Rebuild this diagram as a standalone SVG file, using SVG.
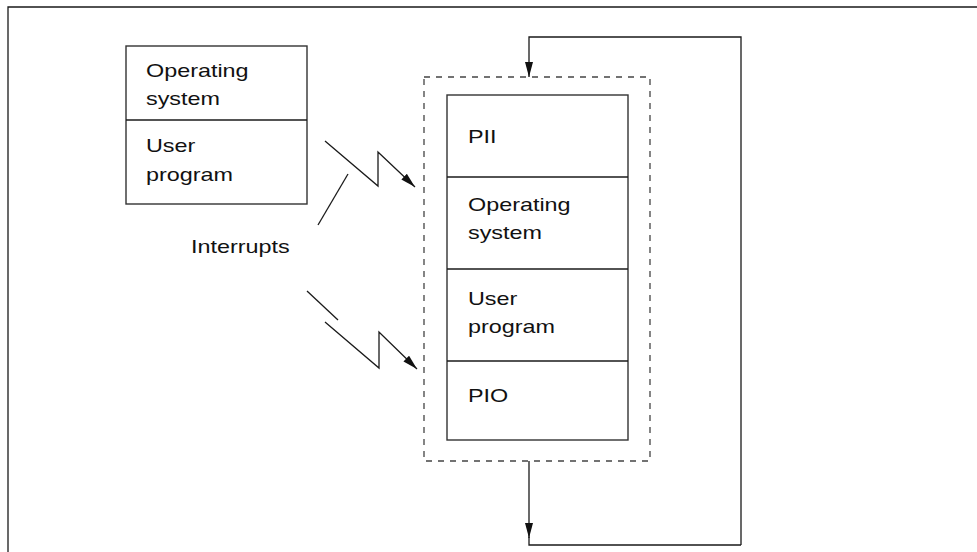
<svg xmlns="http://www.w3.org/2000/svg" width="977" height="552" viewBox="0 0 977 552">
<defs>
<style>
.ln{fill:none;stroke:#1a1a1a;stroke-width:1.3}
.box{fill:#fff;stroke:#333;stroke-width:1.4}
.dash{fill:none;stroke:#444;stroke-width:1.3;stroke-dasharray:6,6}
.t{font-family:"Liberation Sans",Arial,sans-serif;font-size:19px;fill:#111}
</style>
<marker id="ah" markerUnits="userSpaceOnUse" markerWidth="16" markerHeight="10" refX="15" refY="4" orient="auto">
<path d="M0,0 L15,4 L0,8 z" fill="#111"/>
</marker>
</defs>
<rect width="977" height="552" fill="#fff"/>
<path class="ln" d="M8,552 L8,7 L977,7" stroke="#333" stroke-width="1.5"/>

<g id="left-box">
<rect class="box" x="126" y="46" width="181" height="158"/>
<line class="ln" x1="126" y1="120" x2="307" y2="120"/>
<text class="t" transform="translate(146,77) scale(1.23,1)">Operating</text>
<text class="t" transform="translate(146,105) scale(1.23,1)">system</text>
<text class="t" transform="translate(146,152) scale(1.23,1)">User</text>
<text class="t" transform="translate(146,181) scale(1.23,1)">program</text>
</g>

<g id="cycle-frame">
<rect class="dash" x="424" y="77" width="226" height="384"/>
</g>

<g id="cycle-box">
<rect class="box" x="447" y="95" width="181" height="345"/>
<line class="ln" x1="447" y1="177" x2="628" y2="177"/>
<line class="ln" x1="447" y1="269" x2="628" y2="269"/>
<line class="ln" x1="447" y1="361" x2="628" y2="361"/>
<text class="t" transform="translate(468,143) scale(1.23,1)">PII</text>
<text class="t" transform="translate(468,211) scale(1.23,1)">Operating</text>
<text class="t" transform="translate(468,239) scale(1.23,1)">system</text>
<text class="t" transform="translate(468,305) scale(1.23,1)">User</text>
<text class="t" transform="translate(468,333) scale(1.23,1)">program</text>
<text class="t" transform="translate(468,402) scale(1.23,1)">PIO</text>
</g>

<g id="interrupts">
<text class="t" transform="translate(191,253) scale(1.23,1)">Interrupts</text>
</g>

<g id="connectors">
<path class="ln" d="M325,141 L378,186 L378,152 L415,187" marker-end="url(#ah)"/>
<path class="ln" d="M325,322 L379,368 L379,332 L417,369" marker-end="url(#ah)"/>
<line class="ln" x1="348" y1="174" x2="318" y2="225"/>
<line class="ln" x1="307" y1="291" x2="338" y2="320"/>
<path class="ln" d="M741,545 L741,37 L529,37 L529,77" marker-end="url(#ah)"/>
<path class="ln" d="M529,461 L529,538" marker-end="url(#ah)"/>
<path class="ln" d="M529,537 L529,545 L741,545"/>
</g>
</svg>
